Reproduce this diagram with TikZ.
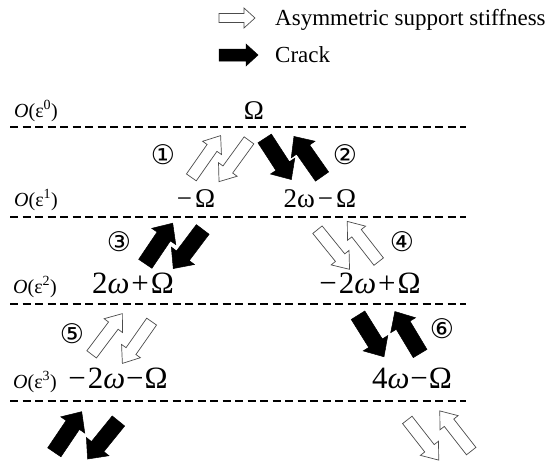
\documentclass[tikz,border=0pt]{standalone}
\usepackage{fontspec}
\setmainfont{Liberation Serif}
\newfontfamily\dejavu{DejaVu Sans}
\newcommand\blockarr[8]{%
  \draw[#8, shift={(#1,#2)}, rotate=#3]
    ({-#4/2},{-#5/2}) -- ({#4/2-#7},{-#5/2}) -- ({#4/2-#7},{-#6/2}) --
    ({#4/2},0) -- ({#4/2-#7},{#6/2}) -- ({#4/2-#7},{#5/2}) -- ({-#4/2},{#5/2}) -- cycle;}
\newcommand\warr[3]{\blockarr{#1}{#2}{#3}{51}{12}{23}{15}{wht}}
\newcommand\barr[3]{\blockarr{#1}{#2}{#3}{49}{16}{29}{16}{blk}}
\tikzset{
  lvl/.style={font=\fontsize{20}{20}\selectfont, anchor=base west, inner sep=0pt},
  midf/.style={font=\fontsize{27}{27}\selectfont, anchor=base, inner sep=0pt},
  bigf/.style={font=\fontsize{31}{31}\selectfont, anchor=base, inner sep=0pt},
  circ/.style={font=\dejavu\fontsize{27}{27}\selectfont, inner sep=0pt},
  leg/.style={font=\fontsize{23}{23}\selectfont, anchor=base west, inner sep=0pt},
  sepline/.style={line width=1.6pt, dash pattern=on 8pt off 4.5pt},
  wht/.style={draw=black!70, fill=white, line width=0.7pt, line join=miter},
  blk/.style={draw=black, fill=black, line width=0.5pt, line join=miter}
}
\begin{document}
\begin{tikzpicture}[x=1pt, y=-1pt]
\useasboundingbox (0,0) rectangle (549,463);
% legend
\blockarr{237}{18}{0}{36}{9}{20}{11}{wht}
\blockarr{238.5}{55}{0}{39}{12}{22}{12}{blk}
\node[leg] (legw) at (275,25) {Asymmetric support stiffness};
\node[leg] (legb) at (275,62) {Crack};
% separators
\foreach \yy in {127,217,304,401} \draw[sepline] (10,\yy) -- (466,\yy);
% level labels
\node[lvl] (o0) at (14,117) {\textit{O}(ε\textsuperscript{0})};
\node[lvl] (o1) at (14,206) {\textit{O}(ε\textsuperscript{1})};
\node[lvl] (o2) at (13,293) {\textit{O}(ε\textsuperscript{2})};
\node[lvl] (o3) at (13,388) {\textit{O}(ε\textsuperscript{3})};
% frequencies
\node[midf] (f0) at (254,119) {Ω};
\node[midf] (f1a) at (196,207) {−\hspace{3pt}Ω};
\node[midf] (f1b) at (320,207) {2ω\hspace{3pt}−\hspace{3pt}Ω};
\node[bigf] (f2a) at (133,293) {2\textit{ω}\hspace{2pt}+\hspace{2pt}Ω};
\node[bigf] (f2b) at (370,293) {−\hspace{2pt}2\textit{ω}\hspace{2pt}+\hspace{2pt}Ω};
\node[bigf] (f3a) at (118,388) {−\hspace{2pt}2\textit{ω}\hspace{1pt}−\hspace{1pt}Ω};
\node[bigf] (f3b) at (412,388) {4\textit{ω}\hspace{1pt}−\hspace{1pt}Ω};
% circled numbers
\node[circ] (c1) at (163,155) {①};
\node[circ] (c2) at (345,155) {②};
\node[circ] (c3) at (119,242) {③};
\node[circ] (c4) at (402,242) {④};
\node[circ] (c5) at (72,334) {⑤};
\node[circ] (c6) at (442,329) {⑥};
% arrow pairs
\warr{206}{156.5}{55}
\warr{234}{161}{234}
\barr{278}{159}{-57}
\barr{308}{156.5}{125}
\barr{159}{243.5}{56}
\barr{188}{249}{233}
\warr{333.5}{249.5}{-51}
\warr{363}{241.5}{128}
\warr{107}{334}{53}
\warr{137}{342.5}{235}
\barr{371}{336}{-58}
\barr{407.5}{332.5}{121}
\barr{68}{432}{56}
\barr{103}{440}{231}
\warr{423}{440}{-52}
\warr{455.5}{431}{128}
\end{tikzpicture}
\end{document}
